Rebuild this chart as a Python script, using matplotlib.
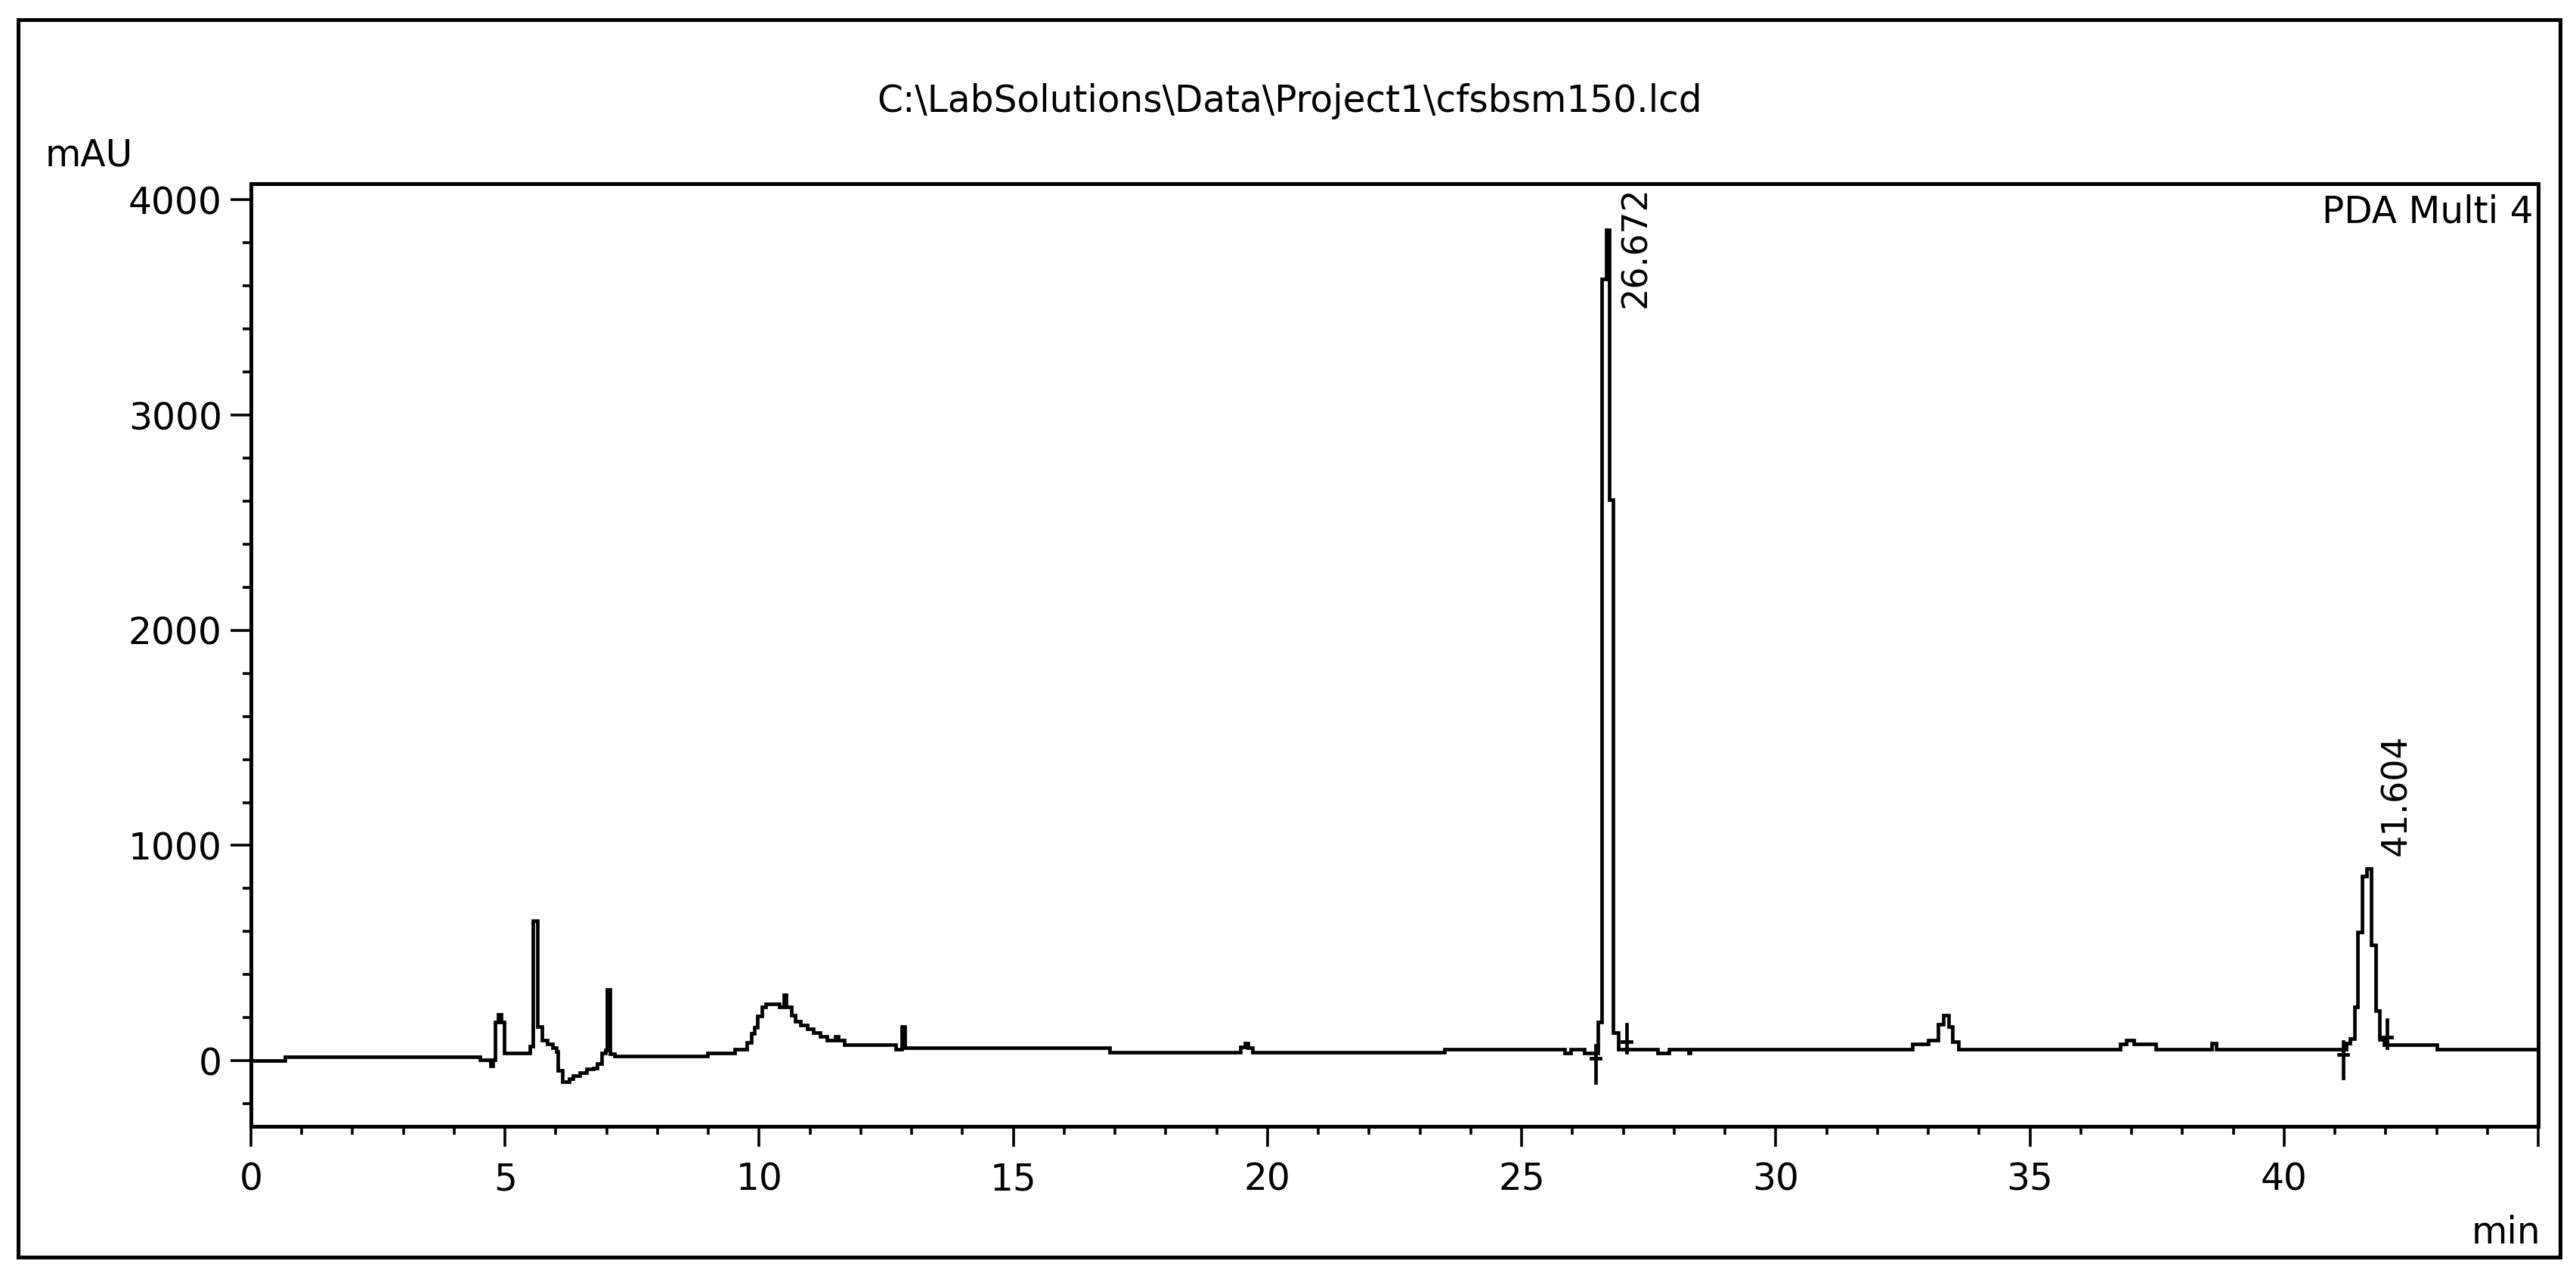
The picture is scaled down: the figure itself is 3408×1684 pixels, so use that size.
import matplotlib
matplotlib.use("Agg")
import matplotlib.pyplot as plt
from matplotlib.patches import Rectangle
from matplotlib.ticker import MultipleLocator, FuncFormatter

# ---- data ----
times = [0.00, 0.67, 4.51, 4.72, 4.76, 4.81, 4.87, 4.92, 4.98, 5.49,
         5.55, 5.63, 5.72, 5.83, 5.94, 6.01, 6.04, 6.13, 6.26, 6.34,
         6.47, 6.60, 6.73, 6.81, 6.90, 6.97, 7.01, 7.07, 7.15, 8.98,
         9.52, 9.75, 9.84, 9.90, 9.96, 10.05, 10.13, 10.39, 10.48, 10.53,
         10.63, 10.71, 10.81, 10.94, 11.07, 11.20, 11.33, 11.50, 11.56, 11.67,
         12.69, 12.81, 12.86, 16.89, 19.47, 19.55, 19.62, 19.70, 23.48, 25.85,
         25.97, 26.24, 26.50, 26.58, 26.66, 26.73, 26.80, 26.90, 27.68, 27.90,
         28.28, 28.32, 32.69, 33.00, 33.19, 33.29, 33.40, 33.47, 33.59, 36.77,
         36.90, 37.05, 37.48, 38.58, 38.66, 41.22, 41.29, 41.39, 41.45, 41.54,
         41.62, 41.71, 41.80, 41.88, 41.96, 43.00, 45.00]
signal = [0, 18, 3, -25, 3, 180, 215, 180, 37, 67,
          652, 160, 96, 78, 59, 43, -45, -97, -85, -68,
          -54, -39, -33, -15, 37, 49, 330, 32, 20, 37,
          55, 84, 126, 154, 207, 249, 265, 250, 306, 250,
          213, 184, 166, 148, 129, 113, 96, 113, 96, 76,
          55, 157, 59, 38, 65, 80, 60, 38, 55, 35,
          55, 35, 179, 3631, 3861, 2607, 130, 55, 37, 55,
          35, 55, 77, 95, 169, 212, 158, 88, 55, 77,
          95, 77, 55, 80, 55, 81, 104, 250, 596, 859,
          894, 537, 233, 98, 75, 55, 55]

peak_rt = ["26.672", "41.604"]
peak_label_x = [27.26, 42.21]
peak_label_y = [3498, 953]
peak_start = [26.45, 41.16]
peak_end = [27.06, 42.03]
marker_base = [30, 50]

x_ticks_labelled = [0, 5, 10, 15, 20, 25, 30, 35, 40]

title = r"C:\LabSolutions\Data\Project1\cfsbsm150.lcd"

# ---- figure ----
W, H = 3408, 1684
fig = plt.figure(figsize=(W / 100, H / 100), dpi=100)
fig.patch.set_facecolor("white")

ax = fig.add_axes([332 / W, 1 - 1490 / H, (3358 - 332) / W, (1490 - 243) / H])
ax.plot(times, signal, drawstyle="steps-post", color="black", lw=3.4,
        solid_joinstyle="miter")
ax.set_xlim(0, 45)
ax.set_ylim(-305, 4075)

ax.xaxis.set_major_locator(MultipleLocator(5))
ax.xaxis.set_minor_locator(MultipleLocator(1))
ax.xaxis.set_major_formatter(FuncFormatter(
    lambda v, p: f"{int(round(v))}" if int(round(v)) in x_ticks_labelled else ""))
ax.yaxis.set_major_locator(MultipleLocator(1000))
ax.yaxis.set_minor_locator(MultipleLocator(200))
ax.yaxis.set_major_formatter(FuncFormatter(lambda v, p: f"{int(round(v))}"))

ax.tick_params(which="major", direction="out", length=19.5, width=2.6,
               labelsize=35, color="black")
ax.tick_params(which="minor", direction="out", length=8, width=2.6, color="black")
ax.tick_params(axis="x", which="major", pad=14)
ax.tick_params(axis="y", which="major", pad=8)
for sp in ax.spines.values():
    sp.set_linewidth(3.6)
    sp.set_color("black")

# peak labels
for lab, lx, ly in zip(peak_rt, peak_label_x, peak_label_y):
    ax.text(lx, ly, lab, rotation=90, ha="center", va="bottom", fontsize=33)

# integration markers
for ts, te, b in zip(peak_start, peak_end, marker_base):
    ax.plot([ts, ts], [b + 40, b - 130], color="black", lw=3.4)
    ax.plot([ts - 0.09, ts + 0.09], [b - 20, b - 20], color="black", lw=3.4)
    ax.plot([te, te], [b + 10, b + 140], color="black", lw=3.4)
    ax.plot([te - 0.09, te + 0.09], [b + 60, b + 60], color="black", lw=3.4)

ax.text(0.998, 0.9888, "PDA Multi 4", transform=ax.transAxes,
        ha="right", va="top", fontsize=35)

fig.text(1706 / W, 1 - 134 / H, title, ha="center", va="center", fontsize=35)
fig.text(60 / W, 1 - 206 / H, "mAU", ha="left", va="center", fontsize=35)
fig.text(3361 / W, 1 - 1645 / H, "min", ha="right", va="baseline", fontsize=35)

fig.patches.append(Rectangle((24 / W, 1 - 1663 / H), (3387 - 24) / W,
                             (1663 - 26) / H, transform=fig.transFigure,
                             fill=False, lw=3.6, ec="black"))

fig.savefig("out.png", dpi=100, facecolor="white")
